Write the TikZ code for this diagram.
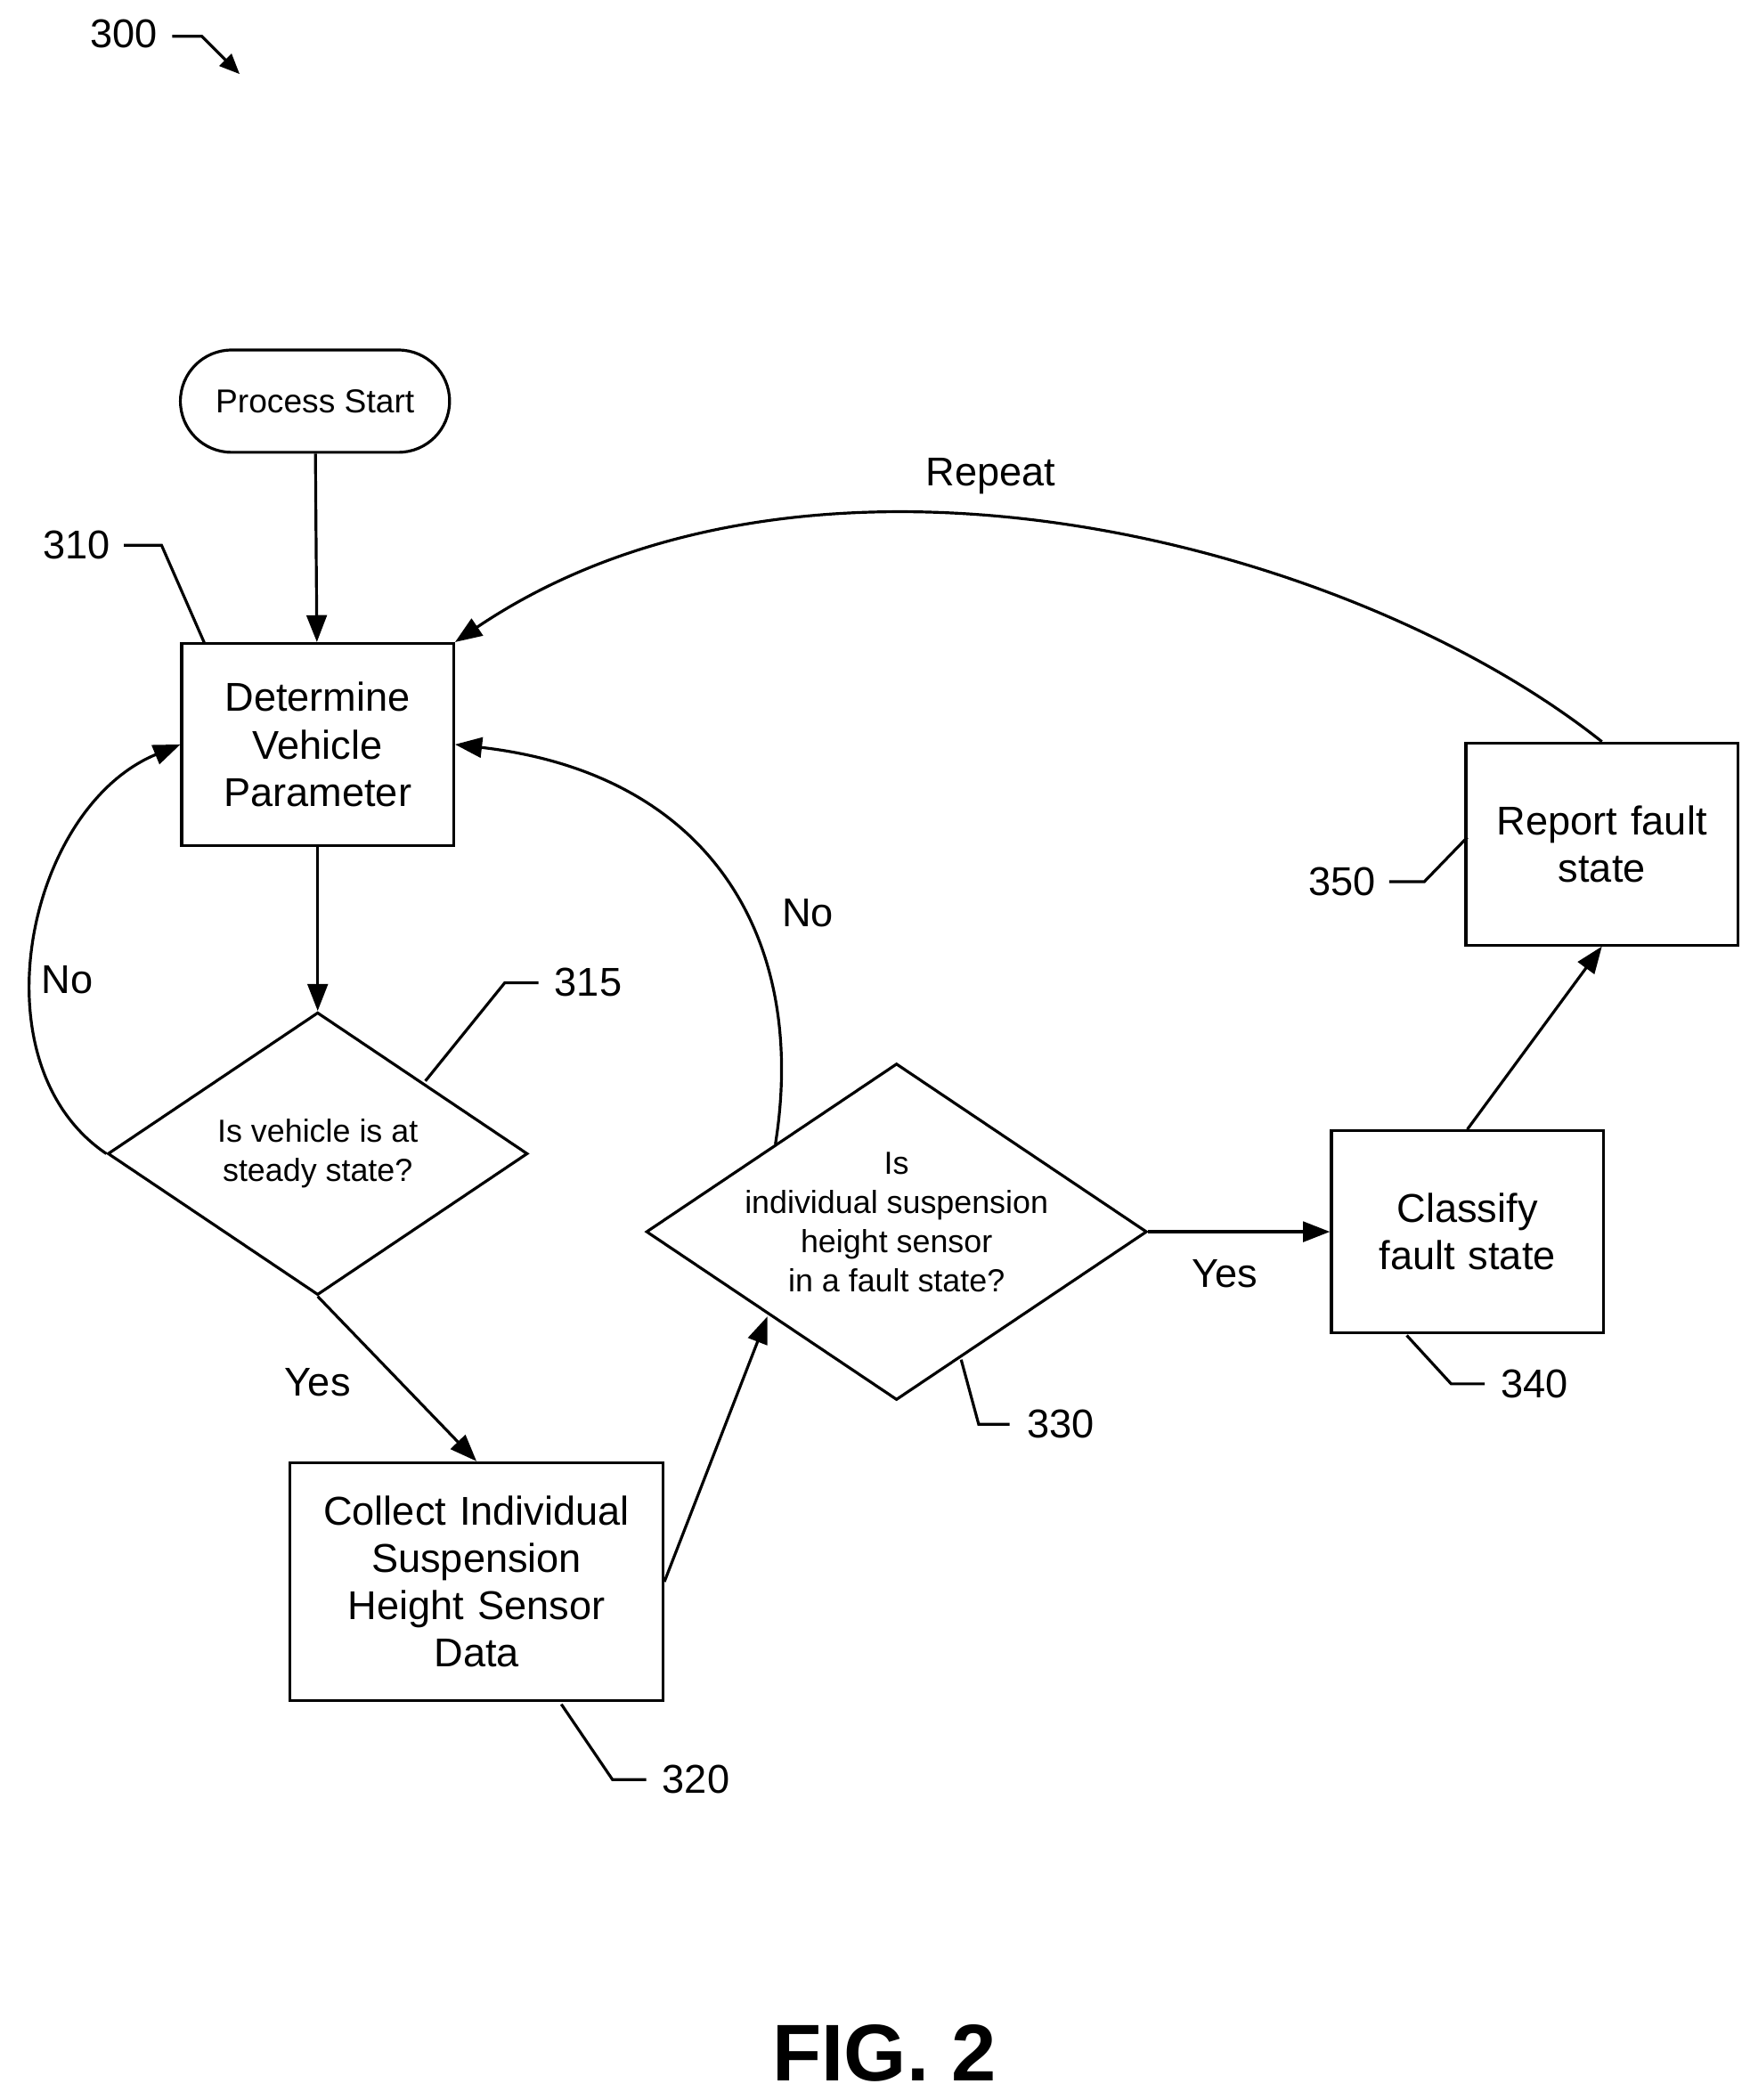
\documentclass[tikz,border=0pt]{standalone}
\usepackage{fontspec}
\setmainfont{Liberation Sans}
\usetikzlibrary{shapes.geometric,arrows.meta}
\begin{document}
\begin{tikzpicture}[x=0.02cm, y=-0.02cm, every node/.style={font=\fontsize{17}{20}\selectfont}]
    % Styles
    \tikzstyle{task} = [rectangle, minimum width=4cm, text width=3.9cm, align=center, draw=black, line width=1.2pt, inner sep=2pt]
    \tikzstyle{check} = [diamond, draw=black, line width=1.2pt, inner sep=0pt]
    \tikzstyle{question} = [align=center, font=\fontsize{13.5}{16.5}\selectfont]
    \tikzstyle{arrow} = [line width=1.2pt, -{Triangle[length=0.4cm, width=0.3cm]}]
    \tikzstyle{leader} = [line width=1.2pt]
    \useasboundingbox (0,0) rectangle (1300,1560);

    % Nodes
    \node (start) [rectangle, rounded corners=0.76cm, draw, line width=1.2pt, minimum width=4cm, minimum height=1.52cm, font=\fontsize{14}{17}\selectfont] at (234,298) {Process Start};
    \node (param) [task, minimum height=3cm] at (236,553) {Determine\\Vehicle\\Parameter};
    \node (steady) [check, minimum width=6.24cm, minimum height=4.2cm] at (236,857) {};
    \node [question] at (steady) {Is vehicle is at\\steady state?};
    \node (collect) [task, minimum width=5.5cm, text width=5.4cm, minimum height=3.54cm] at (354,1175) {Collect Individual\\Suspension\\Height Sensor\\Data};
    \node (fault) [check, minimum width=7.44cm, minimum height=5cm] at (666,915) {};
    \node [question] at (666,908) {Is\\individual suspension\\height sensor\\in a fault state?};
    \node (classify) [task, minimum height=3cm] at (1090,915) {Classify\\fault state};
    \node (report) [task, minimum height=3cm] at (1190,627) {Report fault\\state};
    \coordinate (faultedge) at (570,978);

    % Arrows
    \draw [arrow] (start) -- (param);
    \draw [arrow] (param) -- (steady.north);
    \draw [arrow] (steady.south) -- (collect.north);
    \draw [arrow] (collect.east) -- (faultedge);
    \draw [arrow] (fault.east) -- (classify.west);
    \draw [arrow] (classify.north) -- (report.south);
    \draw [arrow] (report.north) .. controls (1000,400) and (600,300) .. (param.north east);
    \draw [arrow] (steady.west) .. controls (-20,790) and (20,600) .. (param.west);
    \draw [arrow] (576,850) .. controls (600,700) and (530,575) .. (param.east);

    % Labels
    \node at (736,354) {Repeat};
    \node at (50,728) {No};
    \node at (600,678) {No};
    \node at (236,1027) {Yes};
    \node at (910,946) {Yes};

    % Reference numbers
    \node (n300) at (92,25) {300};
    \draw [leader, -{Triangle[length=0.3cm, width=0.25cm]}] (128,27) -- (150,27) -- (178,55);
    \node (n310) at (57,405) {310};
    \draw [leader] (92,405) -- (120,405) -- (152,478);
    \node (n315) at (437,730) {315};
    \draw [leader] (400,730) -- (375,730) -- (316,803);
    \node (n320) at (517,1322) {320};
    \draw [leader] (480,1322) -- (455,1322) -- (417,1266);
    \node (n330) at (788,1058) {330};
    \draw [leader] (750,1058) -- (727,1058) -- (714,1010);
    \node (n340) at (1140,1028) {340};
    \draw [leader] (1103,1028) -- (1078,1028) -- (1045,992);
    \node (n350) at (997,655) {350};
    \draw [leader] (1032,655) -- (1058,655) -- (1090,622);

    \node (fig) [font=\fontsize{34}{38}\selectfont\bfseries] at (657,1525) {FIG. 2};
\end{tikzpicture}
\end{document}
